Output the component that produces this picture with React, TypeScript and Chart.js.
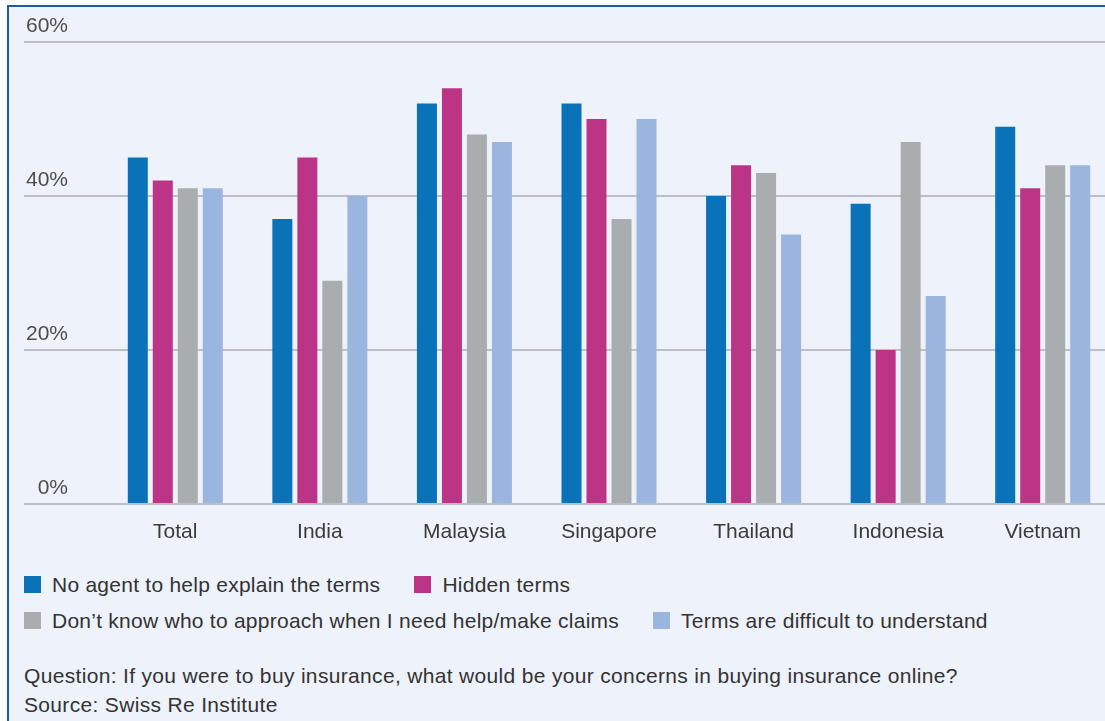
import React, { useEffect, useRef } from "react";
import { Chart, registerables } from "chart.js";

Chart.register(...registerables);

const categories = ["Total", "India", "Malaysia", "Singapore", "Thailand", "Indonesia", "Vietnam"];
const noAgent = [45, 37, 52, 52, 40, 39, 49];
const hiddenTerms = [42, 45, 54, 50, 44, 20, 41];
const dontKnow = [41, 29, 48, 37, 43, 47, 44];
const difficult = [41, 40, 47, 50, 35, 27, 44];
const seriesLabels = [
  "No agent to help explain the terms",
  "Hidden terms",
  "Don\u2019t know who to approach when I need help/make claims",
  "Terms are difficult to understand",
];
const seriesColors = ["#0a72b8", "#bb3486", "#aaadb0", "#9ab6df"];
const yTicks = [0, 20, 40, 60];
const footnotes = [
  "Question: If you were to buy insurance, what would be your concerns in buying insurance online?",
  "Source: Swiss Re Institute",
];

const FONT = "'Liberation Sans', Arial, sans-serif";
const GRID = "#bcc0c6";

export default function App() {
  const ref = useRef<HTMLCanvasElement | null>(null);

  useEffect(() => {
    if (!ref.current) return;
    const values = [noAgent, hiddenTerms, dontKnow, difficult];
    const chart = new Chart(ref.current, {
      type: "bar",
      data: {
        labels: categories,
        datasets: values.map((d, i) => ({
          label: seriesLabels[i],
          data: d,
          backgroundColor: seriesColors[i],
          borderWidth: 0,
          barPercentage: 0.8,
          categoryPercentage: 0.6917,
        })),
      },
      options: {
        responsive: false,
        animation: false,
        devicePixelRatio: 1,
        layout: { padding: { left: 24, top: 42, right: 10, bottom: 0 } },
        plugins: { legend: { display: false }, tooltip: { enabled: false } },
        scales: {
          x: {
            grid: { display: false },
            border: { display: false },
            ticks: {
              font: { family: FONT, size: 21 },
              color: "#3a3a3a",
              padding: 8,
              maxRotation: 0,
            },
            afterFit: (s: any) => {
              s.height = 56;
            },
          },
          y: {
            min: 0,
            max: 60,
            afterBuildTicks: (s: any) => {
              s.ticks = yTicks.map((v) => ({ value: v }));
            },
            ticks: {
              callback: (v: any) => v + "%",
              font: { family: FONT, size: 21 },
              color: "#4d4d4d",
              crossAlign: "near",
              padding: -44,
              labelOffset: -16,
            },
            grid: {
              color: GRID,
              tickColor: GRID,
              lineWidth: 2,
              drawTicks: true,
              tickLength: 79,
            },
            border: { display: false },
            afterFit: (s: any) => {
              s.width = 79;
            },
          },
        },
      },
    });
    return () => chart.destroy();
  }, []);

  return (
    <div
      style={{
        position: "fixed",
        left: 0,
        top: 0,
        width: 1105,
        height: 721,
        overflow: "hidden",
        background: "#ffffff",
        fontFamily: FONT,
      }}
    >
      <div
        style={{
          position: "absolute",
          left: 7,
          top: 5,
          width: 1200,
          height: 800,
          boxSizing: "border-box",
          background: "#eef2fa",
          borderLeft: "2px solid #1f5c9c",
          borderTop: "2px solid #1f5c9c",
        }}
      />
      <canvas
        ref={ref}
        width={1125}
        height={560}
        style={{ position: "absolute", left: 0, top: 0, width: 1125, height: 560 }}
      />
      <div
        style={{
          position: "absolute",
          left: 24,
          top: 572,
          width: 1000,
          display: "flex",
          flexWrap: "wrap",
          columnGap: 34,
          rowGap: 11,
          fontSize: 21,
          lineHeight: "25px",
          letterSpacing: "0.25px",
          color: "#333333",
        }}
      >
        {seriesLabels.map((l, i) => (
          <div key={l} style={{ display: "flex", alignItems: "center", whiteSpace: "nowrap" }}>
            <span
              style={{
                display: "inline-block",
                width: 17,
                height: 17,
                background: seriesColors[i],
                marginRight: 11,
              }}
            />
            <span>{l}</span>
          </div>
        ))}
      </div>
      <div
        style={{
          position: "absolute",
          left: 24,
          top: 661,
          fontSize: 21,
          lineHeight: "29px",
          letterSpacing: "0.33px",
          color: "#333333",
          whiteSpace: "nowrap",
        }}
      >
        {footnotes.map((f) => (
          <div key={f}>{f}</div>
        ))}
      </div>
    </div>
  );
}
